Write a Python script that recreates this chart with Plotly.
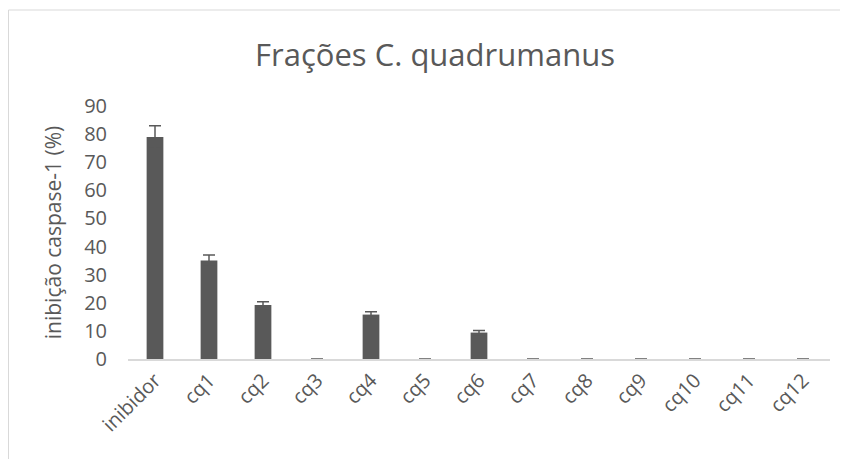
import plotly.graph_objects as go

categories = ["inibidor", "cq1", "cq2", "cq3", "cq4", "cq5", "cq6", "cq7", "cq8", "cq9", "cq10", "cq11", "cq12"]
values = [79.0, 35.0, 19.2, 0, 15.8, 0, 9.4, 0, 0, 0, 0, 0, 0]
errors = [4.0, 2.0, 1.2, 0, 1.0, 0, 0.7, 0, 0, 0, 0, 0, 0]
yticks = [0, 10, 20, 30, 40, 50, 60, 70, 80, 90]

# page body adds an 8px offset; figure coordinates below are page coords minus 8
W, H = 840, 451
L, R, T, B = 120, 18, 98, 100
pw, ph = W - L - R, H - T - B

fig = go.Figure(go.Bar(
    x=categories, y=values, width=0.31,
    marker=dict(color="#595959", line=dict(width=0)),
    error_y=dict(type="data", array=errors, visible=True, color="#595959", thickness=1.5, width=6),
))

font = "Open Sans, Lato, sans-serif"
fig.update_layout(
    width=W, height=H,
    margin=dict(l=L, r=R, t=T, b=B, pad=0),
    paper_bgcolor="white", plot_bgcolor="white",
    showlegend=False,
    title=dict(text="Frações C. quadrumanus", x=427 / W, xref="container", xanchor="center",
               y=1 - 47 / H, yref="container", yanchor="middle",
               font=dict(family=font, size=31, color="#595959")),
    font=dict(family=font, color="#595959"),
)
fig.update_xaxes(
    showline=True, linecolor="#d9d9d9", linewidth=1.5, tickangle=-45,
    tickfont=dict(family=font, size=20, color="#595959"), ticks="", showgrid=False,
)
fig.update_yaxes(
    range=[0, 90], tickvals=yticks, showgrid=False, zeroline=False, showline=False,
    tickfont=dict(family=font, size=20, color="#595959"), ticks="", ticklabelstandoff=20,
    title=dict(text="inibição caspase-1 (%)", font=dict(family=font, size=21, color="#595959"), standoff=16),
)
# outer chart border
fig.add_shape(type="rect", xref="paper", yref="paper",
              x0=(0.5 - L) / pw, x1=(W + 5 - L) / pw,
              y0=(H - B - (H + 5)) / ph, y1=(H - B - 2) / ph,
              line=dict(color="#d9d9d9", width=1), fillcolor="rgba(0,0,0,0)", layer="below")

fig.write_html("out.html")
